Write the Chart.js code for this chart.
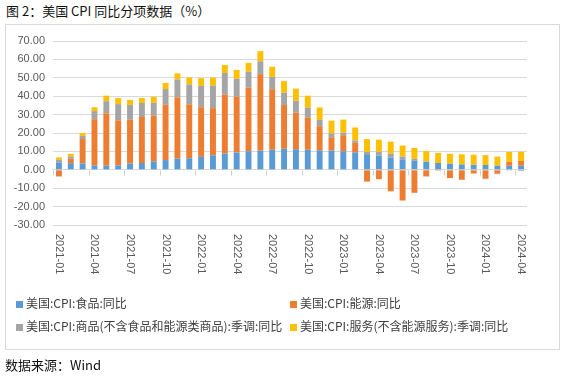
<!DOCTYPE html>
<html>
<head>
<meta charset="utf-8">
<script src="https://cdn.jsdelivr.net/npm/chart.js@4.4.1/dist/chart.umd.min.js"></script>
<style>
  html,body{margin:0;padding:0;background:#fff;}
  #wrap{position:relative;width:564px;height:378px;overflow:hidden;}
  #title{position:absolute;left:6px;top:1px;font:13px "Noto Sans CJK SC",sans-serif;color:#111;white-space:nowrap;}
  #box{position:absolute;left:5px;top:24px;width:555px;height:326px;border:1px solid #d9d9d9;box-sizing:border-box;}
  #chart{position:absolute;left:0;top:0;}
  .lg{position:absolute;font:12px "Noto Sans CJK SC",sans-serif;color:#404040;white-space:nowrap;line-height:14px;}
  .lg i{display:inline-block;width:7px;height:7px;margin-right:3px;vertical-align:0px;}
  #src{position:absolute;left:5px;top:355px;font:13px "Noto Sans CJK SC",sans-serif;color:#111;white-space:nowrap;}
</style>
</head>
<body>
<div id="wrap">
  <div id="title">图 2：美国 CPI 同比分项数据（%）</div>
  <div id="box"></div>
  <canvas id="chart" width="564" height="378"></canvas>
  <div id="legend"></div>
  <div id="src">数据来源：Wind</div>
</div>
<script>
const categories = [
  "2021-01","2021-02","2021-03","2021-04","2021-05","2021-06","2021-07","2021-08","2021-09","2021-10","2021-11","2021-12",
  "2022-01","2022-02","2022-03","2022-04","2022-05","2022-06","2022-07","2022-08","2022-09","2022-10","2022-11","2022-12",
  "2023-01","2023-02","2023-03","2023-04","2023-05","2023-06","2023-07","2023-08","2023-09","2023-10","2023-11","2023-12",
  "2024-01","2024-02","2024-03","2024-04"
];
const seriesNames = [
  "美国:CPI:食品:同比",
  "美国:CPI:能源:同比",
  "美国:CPI:商品(不含食品和能源类商品):季调:同比",
  "美国:CPI:服务(不含能源服务):季调:同比"
];
const food = [3.8,3.6,3.5,2.4,2.2,2.4,3.4,3.7,4.6,5.3,6.1,6.3,
  7.0,7.9,8.8,9.4,10.1,10.4,10.9,11.4,11.2,10.9,10.6,10.4,
  10.1,9.5,8.5,7.7,6.7,5.7,4.9,4.3,3.7,3.3,2.9,2.7,
  2.6,2.2,2.2,2.2];
const energy = [-3.6,2.4,13.2,25.1,28.5,24.5,23.8,25.0,24.8,30.0,33.3,29.3,
  27.0,25.6,32.0,30.3,34.6,41.6,32.9,23.8,19.8,17.6,13.1,7.3,
  8.7,5.2,-6.4,-5.1,-11.7,-16.7,-12.5,-3.6,-0.5,-4.5,-5.4,-2.0,
  -4.6,-1.9,2.1,2.6];
const coreGoods = [1.6,1.2,1.7,4.4,6.6,8.8,8.1,7.6,7.0,8.6,9.7,10.8,
  11.6,12.3,11.8,9.8,8.6,7.0,6.7,6.7,6.5,5.2,3.4,2.1,
  1.4,1.2,1.2,2.1,2.1,1.5,1.0,0.3,0.0,0.0,0.0,0.1,
  -0.5,-0.5,-0.1,-0.7];
const coreServices = [1.3,1.5,1.6,2.1,3.0,3.3,2.7,2.7,3.3,3.3,3.3,3.8,
  4.2,4.3,4.4,4.8,4.8,5.5,5.5,6.3,6.6,6.6,6.8,6.9,
  7.1,7.1,7.0,6.6,6.5,6.0,6.0,5.6,5.5,5.4,5.5,5.4,
  5.4,5.0,5.4,5.0];
const yTickMin = -30, yTickMax = 70, yTickStep = 10;
const colors = ["#5B9BD5","#ED7D31","#A5A5A5","#FFC000"];
const seriesValues = [food, energy, coreGoods, coreServices];

const axisPlugin = {
  id: 'excelAxis',
  afterDraw(chart){
    const ctx = chart.ctx, xs = chart.scales.x, ys = chart.scales.y;
    const y0 = Math.round(ys.getPixelForValue(0)) + 0.5;
    const step = xs.getPixelForValue(1) - xs.getPixelForValue(0);
    ctx.save();
    ctx.strokeStyle = '#d0d0d0';
    ctx.lineWidth = 1;
    for (let i = 0; i < categories.length; i += 3){
      const bx = Math.round(xs.getPixelForValue(i) - step/2) + 0.5;
      ctx.beginPath(); ctx.moveTo(bx, y0); ctx.lineTo(bx, y0 + 5); ctx.stroke();
    }
    ctx.fillStyle = '#595959';
    ctx.font = '11px "Liberation Sans", Arial, sans-serif';
    ctx.textAlign = 'left';
    ctx.textBaseline = 'middle';
    const labelTop = ys.bottom + 9;
    for (let i = 0; i < categories.length; i += 3){
      ctx.save();
      ctx.translate(xs.getPixelForValue(i), labelTop);
      ctx.rotate(Math.PI/2);
      ctx.fillText(categories[i], 0, 0);
      ctx.restore();
    }
    ctx.restore();
  }
};

const chart = new Chart(document.getElementById('chart'), {
  type: 'bar',
  data: {
    labels: categories,
    datasets: seriesNames.map((n, k) => ({
      label: n,
      data: seriesValues[k],
      backgroundColor: colors[k],
      borderWidth: 0,
      categoryPercentage: 1.0,
      barPercentage: 0.5
    }))
  },
  options: {
    responsive: false,
    animation: false,
    layout: { padding: { left: 0, top: 41, right: 37, bottom: 153 } },
    plugins: { legend: { display: false }, tooltip: { enabled: false } },
    scales: {
      x: {
        stacked: true,
        offset: true,
        grid: { display: false },
        border: { display: false },
        ticks: { display: false },
        afterFit(s){ s.height = 0; }
      },
      y: {
        stacked: true,
        min: yTickMin, max: yTickMax,
        ticks: {
          stepSize: yTickStep,
          callback: v => Number(v).toFixed(2),
          color: '#595959',
          font: { family: '"Liberation Sans", Arial, sans-serif', size: 11 },
          padding: 8
        },
        grid: { color: '#d9d9d9', lineWidth: 1, drawTicks: false },
        border: { display: false },
        afterFit(s){ s.width = 53; }
      }
    }
  },
  plugins: [axisPlugin]
});

// HTML legend built from the chart's datasets
const legendPos = [[16,296],[290,296],[16,319],[290,319]];
const lg = document.getElementById('legend');
chart.data.datasets.forEach((d, k) => {
  const el = document.createElement('div');
  el.className = 'lg';
  el.style.left = legendPos[k][0] + 'px';
  el.style.top = legendPos[k][1] + 'px';
  el.innerHTML = '<i style="background:' + d.backgroundColor + '"></i>' + d.label;
  lg.appendChild(el);
});
</script>
</body>
</html>
